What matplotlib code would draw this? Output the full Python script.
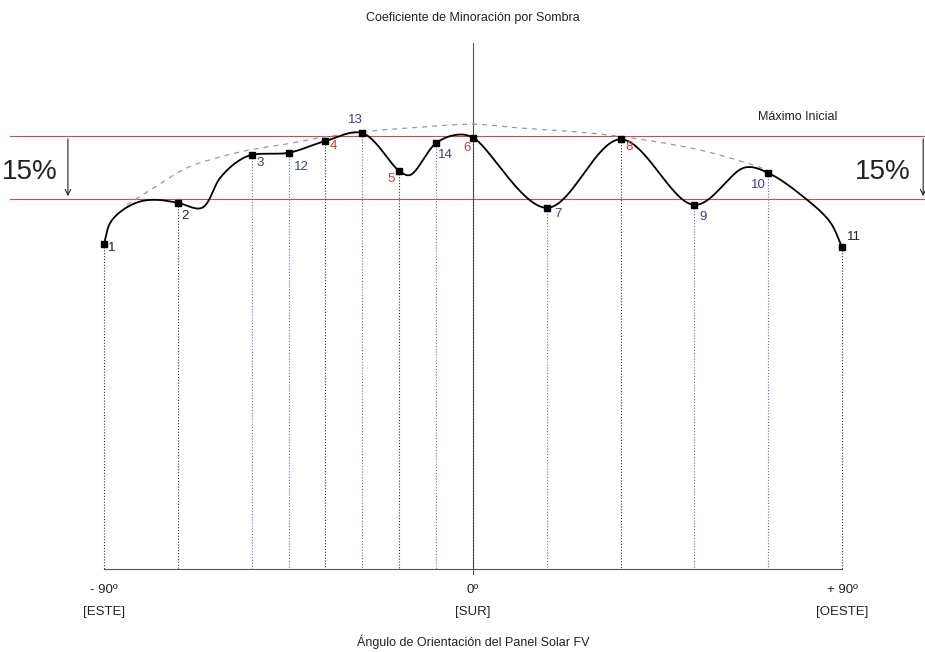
import numpy as np
import matplotlib.pyplot as plt

plt.rcParams['font.family'] = ['Liberation Sans', 'DejaVu Sans']

# DATA
# numbered points: orientation angle (deg) and shading coefficient (1.0 = initial maximum)
point_ids = ["1", "2", "3", "12", "4", "13", "5", "14", "6", "7", "8", "9", "10", "11"]
point_deg = [-90, -72, -54, -45, -36, -27, -18, -9, 0, 18, 36, 54, 72, 90]
point_val = [0.743, 0.841, 0.955, 0.960, 0.988, 1.007, 0.917, 0.983, 0.996, 0.829, 0.992, 0.836, 0.912, 0.736]
point_group = ["k", "k", "b", "b", "r", "b", "r", "b", "r", "b", "r", "b", "b", "k"]

# knots of the coefficient curve (numbered points plus the bumps in between)
curve_deg = [-90, -88.5, -85.4, -81.2, -77.1, -72, -66.1, -61.7, -57.6, -54, -45, -36, -27,
             -18, -15.4, -9, -3.9, 0, 18, 36, 54, 66.3, 72, 81, 87.1, 90]
curve_val = [0.743, 0.793, 0.824, 0.844, 0.848, 0.841, 0.829, 0.900, 0.938, 0.955, 0.960, 0.988, 1.007,
             0.917, 0.907, 0.983, 1.003, 0.996, 0.829, 0.992, 0.836, 0.925, 0.912, 0.852, 0.795, 0.736]

# dashed envelope
arc_deg = [-84.4, -78.0, -69.8, -61.7, -54.4, -45.4, -37.3, -26.8, -12.9, 0, 11.5, 23.7, 33.4, 44.9, 56.1, 68.3, 71.7]
arc_val = [0.836, 0.876, 0.924, 0.950, 0.967, 0.981, 0.996, 1.010, 1.021, 1.028, 1.019, 1.011, 1.002, 0.986, 0.965, 0.931, 0.919]

max_val = 1.0
low_val = 0.85
tick_deg = [-90, 0, 90]
tick_top = ["- 90º", "0º", "+ 90º"]
tick_bottom = ["[ESTE]", "[SUR]", "[OESTE]"]

# pixel scale used for smoothing
SX, SY = 4.1, 420.0


def catmull_rom(xs, ys, n=40, alpha=0.5):
    P = np.column_stack([np.asarray(xs) * SX, np.asarray(ys) * SY])
    P = np.vstack([2 * P[0] - P[1], P, 2 * P[-1] - P[-2]])
    out = []
    for i in range(1, len(P) - 2):
        p0, p1, p2, p3 = P[i - 1], P[i], P[i + 1], P[i + 2]
        t0 = 0.0
        t1 = t0 + np.linalg.norm(p1 - p0) ** alpha
        t2 = t1 + np.linalg.norm(p2 - p1) ** alpha
        t3 = t2 + np.linalg.norm(p3 - p2) ** alpha
        t = np.linspace(t1, t2, n)[:, None]
        a1 = (t1 - t) / (t1 - t0) * p0 + (t - t0) / (t1 - t0) * p1
        a2 = (t2 - t) / (t2 - t1) * p1 + (t - t1) / (t2 - t1) * p2
        a3 = (t3 - t) / (t3 - t2) * p2 + (t - t2) / (t3 - t2) * p3
        b1 = (t2 - t) / (t2 - t0) * a1 + (t - t0) / (t2 - t0) * a2
        b2 = (t3 - t) / (t3 - t1) * a2 + (t - t1) / (t3 - t1) * a3
        c = (t2 - t) / (t2 - t1) * b1 + (t - t1) / (t2 - t1) * b2
        out.append(c)
    out = np.vstack(out)
    return out[:, 0] / SX, out[:, 1] / SY


fig = plt.figure(figsize=(9.25, 6.52), dpi=100)
ax = fig.add_axes([0, 0, 1, 1])
ax.set_xlim(-473 / SX, (925 - 473) / SX)
ax.set_ylim(1 - 516 / SY, 1 + 136 / SY)
ax.axis("off")

base = -0.031
red = "#d24a4a"
blue = "#3c3c9c"
colors = {"k": "#222222", "b": blue, "r": "#d03a3a"}
line_colors = {"k": "#333333", "b": "#6a6ab8", "r": "#333333"}

# reference lines
ax.plot([-113, 111], [max_val, max_val], color=red, lw=0.8)
ax.plot([-113, 111], [low_val, low_val], color=red, lw=0.8)
ax.plot([0, 0], [1.221, -0.043], color="#555555", lw=0.8)
ax.plot([-90, 90], [base, base], color="#555555", lw=0.8)

# dotted verticals
for d, v, g in zip(point_deg, point_val, point_group):
    ax.plot([d, d], [v, base], color=line_colors[g], lw=0.8, ls=(0, (1, 1.6)))

# envelope
ax_x, ax_y = catmull_rom(arc_deg, arc_val)
ax.plot(ax_x, ax_y, color="#999999", lw=0.9, ls=(0, (4, 4)))

# curve
cx, cy = catmull_rom(curve_deg, curve_val)
ax.plot(cx, cy, color="black", lw=1.3, zorder=4)
ax.plot(point_deg, point_val, "s", color="black", ms=4.5, zorder=5)

# point labels (offset in pixels)
offsets = {"1": (8, -4), "2": (7, -13), "3": (9, -8), "12": (13, -14), "4": (8, -5),
           "13": (-7, 13), "5": (-8, -8), "14": (9, -12), "6": (-6, -10), "7": (11, -6),
           "8": (8, -8), "9": (9, -12), "10": (-10, -12), "11": (12, 10)}
for pid, d, v, g in zip(point_ids, point_deg, point_val, point_group):
    ax.annotate(pid, (d, v), xytext=offsets[pid], textcoords="offset pixels",
                ha="center", va="center", fontsize=9.5, color=colors[g], zorder=6)

# 15% markers
for xt, xa in [(-108.0, -98.8), (100.0, 109.8)]:
    ax.text(xt, 0.915, "15%", ha="center", va="center", fontsize=20, color="#222222")
    ax.annotate("", xy=(xa, low_val), xytext=(xa, max_val),
                arrowprops=dict(arrowstyle="->", color="#222222", lw=0.8))

ax.text(79.3, 1.046, "Máximo Inicial", ha="center", va="center", fontsize=9, color="#222222")
ax.text(0, 1.281, "Coeficiente de Minoración por Sombra", ha="center", va="center",
        fontsize=9, color="#222222")

for d, t1, t2 in zip(tick_deg, tick_top, tick_bottom):
    ax.text(d, -0.081, t1, ha="center", va="center", fontsize=9.5, color="#222222")
    ax.text(d, -0.133, t2, ha="center", va="center", fontsize=9.5, color="#222222")
ax.text(0, -0.205, "Ángulo de Orientación del Panel Solar FV", ha="center", va="center",
        fontsize=9, color="#222222")

fig.savefig("out.png", dpi=100)
